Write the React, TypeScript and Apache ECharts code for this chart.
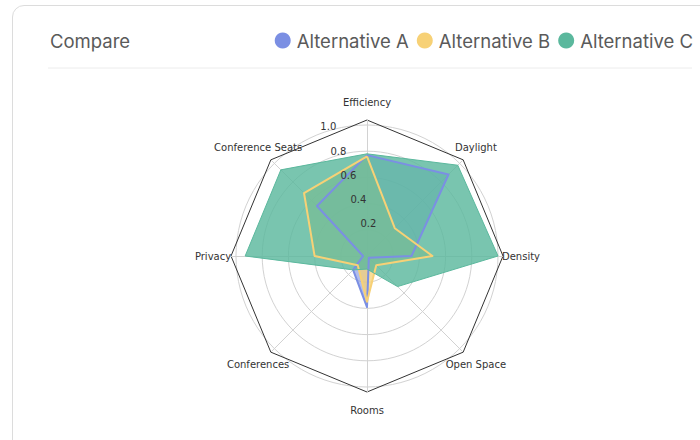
import React, { useEffect, useRef } from "react";
import * as echarts from "echarts";

// Indicators in ECharts' counter-clockwise order, starting at the top
const indicators = ["Efficiency", "Conference Seats", "Privacy", "Conferences", "Rooms", "Open Space", "Density", "Daylight"];
const seriesNames = ["Alternative A", "Alternative B", "Alternative C"];
const altA = [0.77, 0.54, 0.03, 0.15, 0.39, 0.02, 0.34, 0.88];
const altB = [0.76, 0.68, 0.4, 0.1, 0.35, 0.1, 0.5, 0.3];
const altC = [0.78, 0.93, 0.93, 0.15, 0.1, 0.33, 1.0, 0.98];
const radialTickStep = 0.2;
const titleText = "Compare";

const colors = ["#7b8fe3", "#f7d176", "#5bb89d"];
const fillOpacity = [0.6, 0.75, 0.82];
const lineWidths = [2, 2, 1];
const values = [altA, altB, altC];

const CENTER = [367, 256];
const R = 131;
const FRAME_R = 136;
const labelFont = "'DejaVu Sans', sans-serif";
const uiFont = "Inter, 'Noto Sans', sans-serif";

function buildOption(): any {
  const ind = indicators.map((n) => ({ name: n, min: 0, max: 1 }));
  const fillData = seriesNames.map((name, i) => ({
    name,
    value: values[i],
    itemStyle: { color: colors[i] },
    lineStyle: { width: 0, color: colors[i] },
    areaStyle: { color: colors[i], opacity: fillOpacity[i] },
  }));
  const lineData = seriesNames.map((name, i) => ({
    name,
    value: values[i],
    itemStyle: { color: colors[i] },
    lineStyle: { width: lineWidths[i], color: colors[i] },
  }));
  return {
    animation: false,
    title: {
      text: titleText,
      left: 45,
      top: 26,
      textStyle: { fontFamily: uiFont, fontSize: 18.5, fontWeight: "normal", color: "#5a5a5a" },
    },
    legend: {
      data: seriesNames,
      right: 2,
      top: 26,
      icon: "circle",
      itemWidth: 16,
      itemHeight: 16,
      itemGap: 8,
      textStyle: { fontFamily: uiFont, fontSize: 18.5, color: "#5a5a5a", padding: [0, 0, 0, 1] },
    },
    graphic: [
      {
        type: "line",
        shape: { x1: 48, y1: 68, x2: 692, y2: 68 },
        style: { stroke: "#ececec", lineWidth: 1 },
        silent: true,
      },
    ],
    radar: [
      {
        center: CENTER,
        radius: R,
        startAngle: 90,
        shape: "circle",
        splitNumber: 5,
        indicator: ind,
        axisName: { show: false },
        splitLine: { lineStyle: { color: "#d2d2d2", width: 1 } },
        splitArea: { show: false },
        axisLine: { show: false },
        axisTick: { show: false },
        axisLabel: { show: false },
      },
      {
        center: CENTER,
        radius: FRAME_R,
        startAngle: 90,
        shape: "polygon",
        splitNumber: 1,
        indicator: ind,
        nameGap: 18,
        axisName: {
          color: "#333",
          fontSize: 10,
          fontFamily: labelFont,
          align: "center",
          verticalAlign: "middle",
        },
        splitLine: { lineStyle: { color: "#333", width: 1 } },
        splitArea: { show: false },
        axisLine: { lineStyle: { color: "#d2d2d2", width: 1 } },
        axisTick: { show: false },
        axisLabel: { show: false },
      },
    ],
    polar: { center: CENTER, radius: R },
    angleAxis: { type: "value", min: 0, max: 360, startAngle: 112.5, show: false },
    radiusAxis: {
      type: "value",
      min: 0,
      max: 1,
      interval: radialTickStep,
      z: 10,
      axisLine: { show: false },
      axisTick: { show: false },
      splitLine: { show: false },
      axisLabel: {
        formatter: (v: number) => (v === 0 ? "" : v.toFixed(1)),
        fontSize: 10,
        color: "#333",
        fontFamily: labelFont,
        margin: -21,
      },
    },
    series: [
      { type: "radar", radarIndex: 0, symbol: "none", z: 2, silent: true, data: fillData },
      { type: "radar", radarIndex: 0, symbol: "none", z: 3, silent: true, data: lineData },
    ],
  };
}

export default function App() {
  const ref = useRef<HTMLDivElement>(null);
  useEffect(() => {
    const chart = echarts.init(ref.current!, null, { renderer: "svg" });
    chart.setOption(buildOption());
    return () => chart.dispose();
  }, []);
  return (
    <div style={{ position: "fixed", left: 0, top: 0, width: 700, height: 440, overflow: "hidden", background: "#fff" }}>
      <div
        style={{
          position: "absolute",
          left: 12,
          top: 5,
          width: 720,
          height: 470,
          border: "1px solid #dcdcdc",
          borderRadius: 12,
          boxSizing: "border-box",
        }}
      />
      <div ref={ref} style={{ position: "absolute", left: 0, top: 0, width: 700, height: 440 }} />
    </div>
  );
}
